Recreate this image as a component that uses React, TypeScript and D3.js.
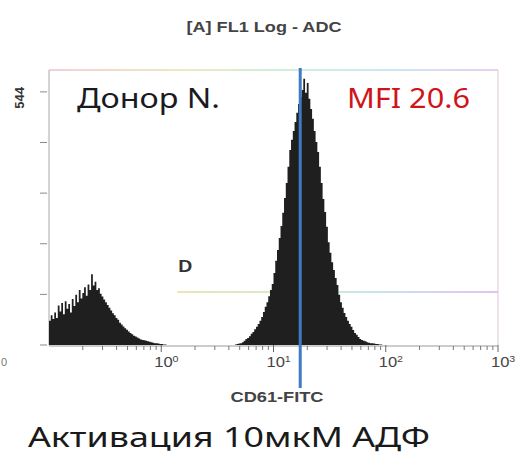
import React from 'react';
import * as d3 from 'd3';

const W = 528;
const H = 457;

// FL1 log histogram: 256 channels spanning four decades (0.1 .. 1000)
const CHANNELS_PER_DECADE = 64;
const TOTAL_CHANNELS = 256;
const X_MIN = 0.1;
const X_MAX = 1000;
const Y_MAX = 591;

// dim (unstained / debris) population, starting at channel 0
const dimStart = 0;
const dimCounts = [
  52, 64, 56, 70, 58, 85, 72, 90, 66, 94,
  78, 88, 70, 99, 84, 108, 92, 118, 100, 112,
  124, 106, 130, 118, 152, 128, 136, 118, 122, 110,
  104, 98, 92, 86, 80, 74, 68, 64, 58, 54,
  48, 44, 40, 36, 33, 29, 26, 23, 20, 18,
  16, 14, 12, 11, 10, 9, 8, 7, 6, 5,
  4, 4, 3, 2, 2, 1, 1,
];

// CD61-positive population, starting at channel 106
const brightStart = 106;
const brightCounts = [
  1, 2, 3, 4, 6, 9, 13, 15, 19, 24,
  28, 34, 39, 45, 52, 60, 71, 82, 92, 105,
  118, 131, 155, 181, 204, 230, 256, 284, 316, 348,
  383, 419, 441, 460, 479, 499, 518, 533, 548, 572,
  542, 563, 529, 507, 486, 460, 436, 415, 383, 348,
  314, 286, 254, 221, 198, 178, 161, 144, 129, 108,
  92, 80, 69, 60, 52, 45, 39, 32, 26, 22,
  17, 13, 11, 9, 8, 6, 5, 4, 4, 3,
  2, 2, 1, 1,
];

const xTickValues = [1, 10, 100, 1000];
const xTickExponents = ['0', '1', '2', '3'];
const yTickValues = [0, 108.8, 217.6, 326.4, 435.2, 544];
const yTopLabel = '544';
const yBottomLabel = '0';

const title = '[A] FL1 Log - ADC';
const xAxisTitle = 'CD61-FITC';
const donorLabel = 'Донор N.';
const mfiLabel = 'MFI 20.6';
const caption = 'Активация 10мкМ АДФ';

const cursorValue = 17.3;
const gateName = 'D';
const gateFrom = 1.39;
const gateTo = 1000;
const gateLevel = 114;

const margin = { left: 49, right: 30, top: 70, bottom: 112 };
const TEXT_STRETCH = 1.18;

export default function App() {
  const x = d3
    .scaleLog()
    .domain([X_MIN, X_MAX])
    .range([margin.left, W - margin.right]);
  const y = d3
    .scaleLinear()
    .domain([0, Y_MAX])
    .range([H - margin.bottom, margin.top]);

  // assemble full channel table
  const counts: number[] = new Array(TOTAL_CHANNELS).fill(0);
  dimCounts.forEach((v, i) => (counts[dimStart + i] = v));
  brightCounts.forEach((v, i) => (counts[brightStart + i] = v));
  const edge = (c: number) => X_MIN * Math.pow(10, c / CHANNELS_PER_DECADE);
  const pts = counts.map((v, c) => ({ v: edge(c), n: v }));
  pts.push({ v: edge(TOTAL_CHANNELS), n: 0 });

  const area = d3
    .area<{ v: number; n: number }>()
    .x((d) => x(d.v))
    .y0(y(0))
    .y1((d) => y(d.n))
    .curve(d3.curveStepAfter);

  const minorTicks: number[] = [];
  for (let e = -1; e < 3; e++) {
    for (let k = 2; k <= 9; k++) minorTicks.push(k * Math.pow(10, e));
  }

  const x0 = x(X_MIN);
  const x1 = x(X_MAX);
  const yBase = y(0);
  const yTop = y(Y_MAX);
  const sans = "'Noto Sans', sans-serif";

  return (
    <svg
      width={W}
      height={H}
      style={{ position: 'absolute', left: 0, top: 0, background: '#fff' }}
      fontFamily="'Liberation Sans', Arial, sans-serif"
    >
      <defs>
        <linearGradient id="frameTop" gradientUnits="userSpaceOnUse" x1={x0} x2={x1} y1={0} y2={0}>
          <stop offset="0" stopColor="#f0c0cc" />
          <stop offset="0.3" stopColor="#e4e2ae" />
          <stop offset="0.5" stopColor="#c4e8d0" />
          <stop offset="0.75" stopColor="#bcdfec" />
          <stop offset="1" stopColor="#e2bfe6" />
        </linearGradient>
        <linearGradient
          id="gateLine"
          gradientUnits="userSpaceOnUse"
          x1={x(gateFrom)}
          x2={x(gateTo)}
          y1={0}
          y2={0}
        >
          <stop offset="0" stopColor="#e2dca0" />
          <stop offset="0.35" stopColor="#c8e4bc" />
          <stop offset="0.6" stopColor="#b2dcea" />
          <stop offset="1" stopColor="#dcaee2" />
        </linearGradient>
      </defs>

      <text
        x={264}
        y={32}
        textAnchor="middle"
        fontSize={14}
        fontWeight="bold"
        fill="#444"
        textLength={155}
        lengthAdjust="spacingAndGlyphs"
      >
        {title}
      </text>

      {/* frame */}
      <line x1={x0} x2={x1} y1={yTop} y2={yTop} stroke="url(#frameTop)" strokeWidth={1.6} />
      <line x1={x1} x2={x1} y1={yTop} y2={yBase} stroke="#e0d0de" strokeWidth={1.2} />
      <line x1={x0} x2={x0} y1={yTop} y2={yBase} stroke="#b8b8b8" strokeWidth={1.2} />

      {/* y ticks */}
      {yTickValues.map((v) => (
        <line key={v} x1={40} x2={47} y1={y(v)} y2={y(v)} stroke="#8a8a8a" strokeWidth={1} />
      ))}
      <text
        transform={`translate(24, ${y(544) + 6}) rotate(-90)`}
        textAnchor="middle"
        fontSize={13}
        fontWeight="bold"
        fill="#333"
      >
        {yTopLabel}
      </text>
      <text x={1} y={366} fontSize={11} fill="#777">
        {yBottomLabel}
      </text>

      {/* gate D */}
      <line
        x1={x(gateFrom)}
        x2={x(gateTo)}
        y1={y(gateLevel)}
        y2={y(gateLevel)}
        stroke="url(#gateLine)"
        strokeWidth={1.6}
      />
      <text
        x={x(gateFrom) + 1}
        y={y(gateLevel) - 20}
        fontSize={16}
        fontWeight="bold"
        fill="#333"
        textLength={14}
        lengthAdjust="spacingAndGlyphs"
      >
        {gateName}
      </text>

      {/* histogram */}
      <path d={area(pts) ?? ''} fill="#1f1f1f" />

      {/* x axis */}
      <line x1={x0} x2={x1} y1={yBase + 1} y2={yBase + 1} stroke="#9a9a9a" strokeWidth={1} />
      {minorTicks.map((v) => (
        <line key={v} x1={x(v)} x2={x(v)} y1={yBase + 1} y2={yBase + 5} stroke="#777" strokeWidth={1} />
      ))}
      {xTickValues.map((v, i) => (
        <g key={v}>
          <line x1={x(v)} x2={x(v)} y1={yBase} y2={yBase + 7} stroke="#666" strokeWidth={1} />
          <text
            transform={`translate(${x(v) - 7}, ${yBase + 22}) scale(${TEXT_STRETCH}, 1)`}
            fontSize={14}
            fill="#444"
          >
            10
            <tspan dy={-5} fontSize={9}>
              {xTickExponents[i]}
            </tspan>
          </text>
        </g>
      ))}
      <text
        x={277}
        y={402}
        textAnchor="middle"
        fontSize={14}
        fontWeight="bold"
        fill="#444"
        textLength={93}
        lengthAdjust="spacingAndGlyphs"
      >
        {xAxisTitle}
      </text>

      {/* cursor */}
      <line
        x1={x(cursorValue)}
        x2={x(cursorValue)}
        y1={yTop - 2}
        y2={388}
        stroke="#3d7cc4"
        strokeWidth={3}
      />

      <text
        x={77}
        y={108}
        fontSize={27}
        fill="#1a1a22"
        fontFamily={sans}
        textLength={143}
        lengthAdjust="spacingAndGlyphs"
      >
        {donorLabel}
      </text>
      <text
        x={347}
        y={108}
        fontSize={27}
        fill="#d0141a"
        fontFamily={sans}
        textLength={123}
        lengthAdjust="spacingAndGlyphs"
      >
        {mfiLabel}
      </text>

      <text
        x={28}
        y={447}
        fontSize={27}
        fill="#1a1a1a"
        fontFamily={sans}
        textLength={402}
        lengthAdjust="spacingAndGlyphs"
      >
        {caption}
      </text>
    </svg>
  );
}
